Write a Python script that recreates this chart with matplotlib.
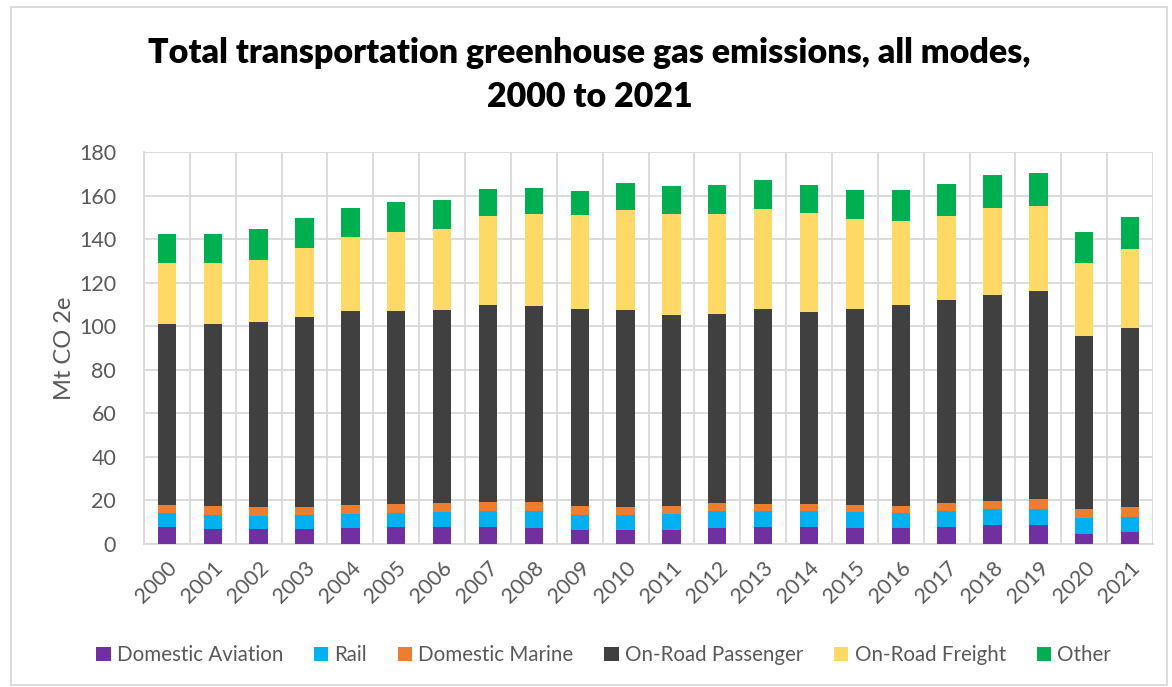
import matplotlib
matplotlib.use("Agg")
import matplotlib.pyplot as plt
import numpy as np
from matplotlib.patches import Rectangle

plt.rcParams['font.family'] = ['Lato', 'DejaVu Sans']

# Data (Mt CO2e)
years = [str(y) for y in range(2000, 2022)]
aviation = [7.6, 6.9, 6.9, 6.9, 7.2, 7.6, 7.6, 7.6, 7.3, 6.4, 6.4,
            6.4, 7.5, 7.6, 7.6, 7.5, 7.2, 7.6, 8.6, 8.6, 4.6, 5.4]
rail = [6.5, 6.6, 6.1, 6.2, 6.6, 6.5, 6.9, 7.5, 7.8, 6.9, 6.7,
        7.4, 7.6, 7.5, 7.4, 7.0, 6.9, 7.7, 7.5, 7.5, 7.2, 7.0]
marine = [3.9, 3.9, 4.0, 4.0, 4.1, 4.2, 4.3, 4.2, 4.2, 4.0, 4.0,
          3.7, 3.7, 3.4, 3.5, 3.5, 3.3, 3.7, 3.8, 4.7, 4.1, 4.7]
passenger = [83.2, 83.7, 85.0, 87.2, 89.0, 88.7, 88.7, 90.6, 89.9, 90.7, 90.5,
             87.5, 87.0, 89.3, 88.1, 89.8, 92.5, 93.2, 94.6, 95.4, 79.4, 82.0]
freight = [28.0, 28.0, 28.6, 31.6, 33.9, 36.4, 37.3, 40.9, 42.5, 42.9, 45.6,
           46.5, 45.9, 45.9, 45.4, 41.4, 38.3, 38.4, 39.9, 39.2, 33.9, 36.5]
other = [13.0, 13.3, 13.9, 13.6, 13.6, 13.5, 13.0, 12.0, 11.6, 11.0, 12.4,
         13.0, 13.0, 13.4, 12.8, 13.5, 14.3, 14.8, 15.0, 14.8, 14.1, 14.6]

series = [aviation, rail, marine, passenger, freight, other]
labels = ['Domestic Aviation', 'Rail', 'Domestic Marine', 'On-Road Passenger',
          'On-Road Freight', 'Other']
colors = ['#7030A0', '#00B0F0', '#ED7D31', '#404040', '#FFD966', '#00B050']

fig = plt.figure(figsize=(11.72, 6.87), dpi=100)
ax = fig.add_axes([144 / 1172, 1 - 544 / 687, (1153 - 144) / 1172, (544 - 152) / 687])

x = np.arange(len(years))
bottom = np.zeros(len(years))
for vals, lab, col in zip(series, labels, colors):
    ax.bar(x, vals, 0.4, bottom=bottom, color=col, label=lab, zorder=3)
    bottom += np.array(vals)

grid_c = '#d9d9d9'
ax.set_ylim(0, 180)
ax.set_yticks(np.arange(0, 181, 20))
ax.set_xlim(-0.5, len(years) - 0.5)
ax.set_xticks(x)
ax.set_xticklabels(years, rotation=45, ha='right', rotation_mode='anchor')
ax.set_xticks(np.arange(-0.5, len(years), 1), minor=True)
ax.grid(axis='y', color=grid_c, linewidth=1.3, zorder=0)
ax.grid(axis='x', which='minor', color=grid_c, linewidth=1.3, zorder=0)
ax.grid(axis='x', which='major', visible=False)
ax.tick_params(axis='both', which='both', length=0, labelsize=15.5,
               labelcolor='#595959')
ax.tick_params(axis='y', pad=20)
ax.tick_params(axis='x', pad=10)
for s in ['top', 'right']:
    ax.spines[s].set_visible(False)
ax.spines['left'].set_color(grid_c)
ax.spines['bottom'].set_color(grid_c)
ax.spines['left'].set_linewidth(1.3)
ax.spines['bottom'].set_linewidth(1.3)

ax.set_ylabel('Mt CO 2e', fontsize=17, color='#595959', labelpad=3)

fig.text(0.503, 1 - 75 / 687, 'Total transportation greenhouse gas emissions, all modes,\n2000 to 2021',
         ha='center', va='center', fontsize=24.5, fontweight='heavy', color='black',
         linespacing=1.45)

ax.legend(loc='center', bbox_to_anchor=(0.515, 1 - 655 / 687), bbox_transform=fig.transFigure,
          ncol=6, frameon=False, fontsize=14.8, handlelength=0.7, handleheight=0.7,
          handletextpad=0.3, columnspacing=1.5, labelcolor='#595959')

fig.patches.append(Rectangle((11 / 1172, 1 - 685 / 687), (1167 - 11) / 1172, (685 - 7) / 687,
                             transform=fig.transFigure, fill=False, edgecolor=grid_c,
                             linewidth=1.3))

fig.savefig('out.png', dpi=100, facecolor='white')
